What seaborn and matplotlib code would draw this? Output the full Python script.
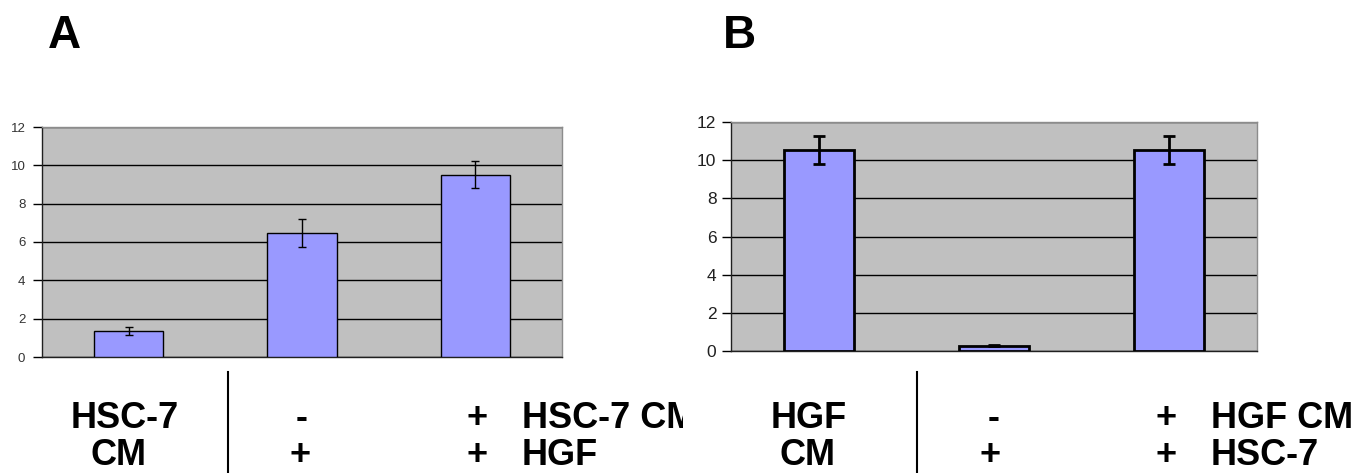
import matplotlib
matplotlib.use("Agg")
import matplotlib.pyplot as plt
import seaborn as sns
import pandas as pd
from matplotlib.transforms import Bbox, TransformedBbox

# panel A: HSC-7 CM / HGF
conds_a = ["HSC-7 CM", "HGF", "HSC-7 CM + HGF"]
vals_a = [1.35, 6.48, 9.52]
errs_a = [0.19, 0.72, 0.72]

# panel B: HGF CM / HSC-7
conds_b = ["HGF CM", "HSC-7", "HGF CM + HSC-7"]
vals_b = [10.55, 0.28, 10.55]
errs_b = [0.73, 0.03, 0.73]

yticks = [0, 2, 4, 6, 8, 10, 12]

W, H = 1371, 473
BAR = "#9999FF"


def panel(ax, conds, vals, errs, lw, capsize, tick_kw):
    df = pd.DataFrame({"cond": conds, "val": vals})
    sns.barplot(data=df, x="cond", y="val", color=BAR, saturation=1, width=0.4,
                edgecolor="black", linewidth=lw, errorbar=None, ax=ax, zorder=3)
    ax.errorbar(range(len(vals)), vals, yerr=errs, fmt="none", ecolor="black",
                elinewidth=lw, capsize=capsize, capthick=lw, zorder=4)
    ax.set_xlim(-0.5, len(vals) - 0.5)
    ax.set_ylim(0, 12)
    ax.set_yticks(yticks)
    ax.set_yticklabels([str(t) for t in yticks], **tick_kw)
    ax.set_facecolor("#C0C0C0")
    ax.yaxis.grid(True, color="black", lw=1)
    ax.xaxis.grid(False)
    ax.set_axisbelow(True)
    ax.set_xticks([])
    ax.set_xlabel("")
    ax.set_ylabel("")
    ax.tick_params(axis="y", length=6.5, width=1, color="black", direction="out")
    for s in ["top", "right"]:
        ax.spines[s].set_color("#8c8c8c")
        ax.spines[s].set_linewidth(1)
    for s in ["left", "bottom"]:
        ax.spines[s].set_color("#202020")
        ax.spines[s].set_linewidth(1)


fig = plt.figure(figsize=(W / 100, H / 100), dpi=100)

ax_a = fig.add_axes([42 / W, (H - 357) / H, 520 / W, 230 / H])
panel(ax_a, conds_a, vals_a, errs_a, lw=1, capsize=3.2,
      tick_kw=dict(fontsize=9.5, color="#333333", family=["Liberation Sans", "DejaVu Sans"]))
ax_a.tick_params(axis="y", pad=5.5)

ax_b = fig.add_axes([731 / W, (H - 351) / H, 526 / W, 229 / H])
panel(ax_b, conds_b, vals_b, errs_b, lw=2, capsize=4,
      tick_kw=dict(fontsize=12.5, color="#202020",
                   family=["Liberation Sans Narrow", "Liberation Sans"], fontstretch="condensed"))
ax_b.tick_params(axis="y", pad=4)

bold = dict(family=["Liberation Sans", "DejaVu Sans"], fontweight="bold", color="black")


def ftext(x, y, s, ha="left", size=26):
    # x, y in pixels from top-left, y is the baseline
    return fig.text(x / W, (H - y) / H, s, ha=ha, va="baseline", fontsize=size, **bold)


# panel letters
ftext(48, 48, "A", size=33)
ftext(723, 48, "B", size=33)

# condition table under panel A
r1, r2 = 428, 465
ftext(125, r1, "HSC-7", ha="center")
ftext(118, r2, "CM", ha="center")
ftext(302, r1, "-", ha="center")
ftext(300, r2, "+", ha="center")
ftext(477, r1, "+", ha="center")
ftext(477, r2, "+", ha="center")
t = ftext(522, r1, "HSC-7 CM")
t.set_clip_box(TransformedBbox(Bbox([[0, 0], [683 / W, 1]]), fig.transFigure))
t.set_clip_on(True)
ftext(522, r2, "HGF")
fig.add_artist(plt.Line2D([228 / W, 228 / W], [0, (H - 372) / H], color="black", lw=1.5))

# condition table under panel B
ftext(809, r1, "HGF", ha="center")
ftext(808, r2, "CM", ha="center")
ftext(994, r1, "-", ha="center")
ftext(990, r2, "+", ha="center")
ftext(1166, r1, "+", ha="center")
ftext(1166, r2, "+", ha="center")
ftext(1211, r1, "HGF CM")
ftext(1211, r2, "HSC-7")
fig.add_artist(plt.Line2D([917 / W, 917 / W], [0, (H - 372) / H], color="black", lw=1.5))

fig.savefig("out.png", dpi=100, facecolor="white")
